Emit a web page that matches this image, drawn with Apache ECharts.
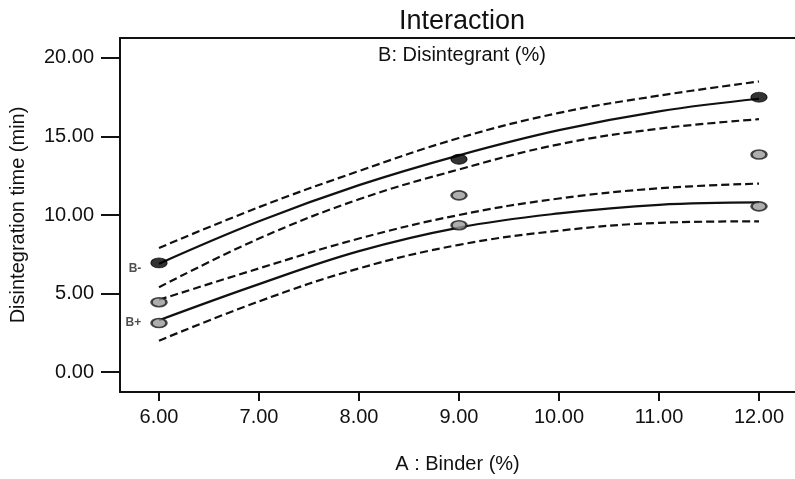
<!DOCTYPE html>
<html>
<head>
<meta charset="utf-8">
<script src="https://cdn.jsdelivr.net/npm/echarts@6/dist/echarts.min.js"></script>
<style>
  html, body { margin: 0; padding: 0; background: #fff; }
  #chart { width: 795px; height: 479px; }
</style>
</head>
<body>
<div id="chart"></div>
<script>
// Binder levels (%) at which the fitted curves are read
const binderLevels = [6, 7, 8, 9, 10, 11, 12];

// B- (low disintegrant): fitted response and 95% confidence band
const bMinusFit   = [6.9, 9.6, 11.9, 13.8, 15.4, 16.6, 17.4];
const bMinusUpper = [7.9, 10.5, 12.8, 14.9, 16.5, 17.6, 18.5];
const bMinusLower = [5.4, 8.5, 11.0, 12.9, 14.5, 15.5, 16.1];

// B+ (high disintegrant): fitted response and 95% confidence band
const bPlusFit   = [3.3, 5.6, 7.7, 9.2, 10.1, 10.65, 10.8];
const bPlusUpper = [4.6, 6.6, 8.5, 10.0, 11.05, 11.7, 12.0];
const bPlusLower = [2.0, 4.5, 6.6, 8.1, 9.0, 9.5, 9.6];

// Observed design points
const bMinusPoints = [[6, 6.95], [9, 13.55], [12, 17.5]];
const bPlusPoints  = [[6, 4.45], [6, 3.12], [9, 11.25], [9, 9.35], [12, 13.85], [12, 10.55]];

// Axis ticks
const xTicks = [6, 7, 8, 9, 10, 11, 12];
const yTicks = [0, 5, 10, 15, 20];

const pair = (ys) => binderLevels.map((x, i) => [x, ys[i]]);

const solid = { color: '#111', width: 2.2, type: 'solid' };
const dashed = { color: '#111', width: 2.2, type: [8, 4] };

function curve(name, ys, style) {
  return {
    name, type: 'line', data: pair(ys), smooth: 0.4,
    showSymbol: false, symbol: 'none', lineStyle: style,
    silent: true, z: 2
  };
}

const frameLine = { show: true, onZero: false, lineStyle: { color: '#111', width: 2 } };

const chart = echarts.init(document.getElementById('chart'));
chart.setOption({
  animation: false,
  textStyle: { fontFamily: 'Liberation Sans, Arial, sans-serif' },
  title: [
    { text: 'Interaction', left: 457, top: 3, textAlign: 'center',
      textStyle: { fontSize: 27, fontWeight: 'normal', color: '#111' } },
    { text: 'B: Disintegrant (%)', left: 457, top: 40, textAlign: 'center',
      textStyle: { fontSize: 20, fontWeight: 'normal', color: '#111' } }
  ],
  grid: { left: 120, top: 38, right: 0, bottom: 87 },
  xAxis: [
    {
      type: 'value', min: 5.61, max: 12.36,
      name: 'A : Binder (%)', nameLocation: 'middle', nameGap: 62,
      nameTextStyle: { fontSize: 20, color: '#111' },
      axisLine: frameLine,
      axisTick: { show: true, length: 9, customValues: xTicks, lineStyle: { color: '#111', width: 2 } },
      axisLabel: { customValues: xTicks, margin: 15, fontSize: 20, color: '#111',
        formatter: (v) => v.toFixed(2) },
      splitLine: { show: false }
    },
    {
      // top edge of the frame
      type: 'value', position: 'top', min: 5.61, max: 12.36,
      axisLine: frameLine, axisTick: { show: false }, axisLabel: { show: false },
      splitLine: { show: false }
    }
  ],
  yAxis: {
    type: 'value', min: -1.27, max: 21.27,
    name: 'Disintegration time (min)', nameLocation: 'middle', nameGap: 92,
    nameTextStyle: { fontSize: 20, color: '#111' },
    axisLine: frameLine,
    axisTick: { show: true, length: 19, customValues: yTicks, lineStyle: { color: '#111', width: 2 } },
    axisLabel: { customValues: yTicks, margin: 26, fontSize: 20, color: '#111',
      formatter: (v) => v.toFixed(2) },
    splitLine: { show: false }
  },
  series: [
    curve('B- upper', bMinusUpper, dashed),
    curve('B- fit', bMinusFit, solid),
    curve('B- lower', bMinusLower, dashed),
    curve('B+ upper', bPlusUpper, dashed),
    curve('B+ fit', bPlusFit, solid),
    curve('B+ lower', bPlusLower, dashed),
    {
      name: 'B- points', type: 'scatter', z: 5,
      symbol: 'circle', symbolSize: [16, 10],
      itemStyle: { color: '#000', borderColor: '#000', borderWidth: 1 },
      data: bMinusPoints.map((p, i) => i === 0
        ? { value: p, label: { show: true, position: 'left', distance: 9, offset: [0, 6],
            formatter: 'B-', fontSize: 12, fontWeight: 'bold', color: '#222' } }
        : { value: p })
    },
    {
      name: 'B+ points', type: 'scatter', z: 5,
      symbol: 'circle', symbolSize: [15, 9],
      itemStyle: { color: '#9a9a9a', borderColor: '#1a1a1a', borderWidth: 2 },
      data: bPlusPoints.map((p, i) => i === 1
        ? { value: p, label: { show: true, position: 'left', distance: 9,
            formatter: 'B+', fontSize: 12, fontWeight: 'bold', color: '#222' } }
        : { value: p })
    }
  ]
});
</script>
</body>
</html>
